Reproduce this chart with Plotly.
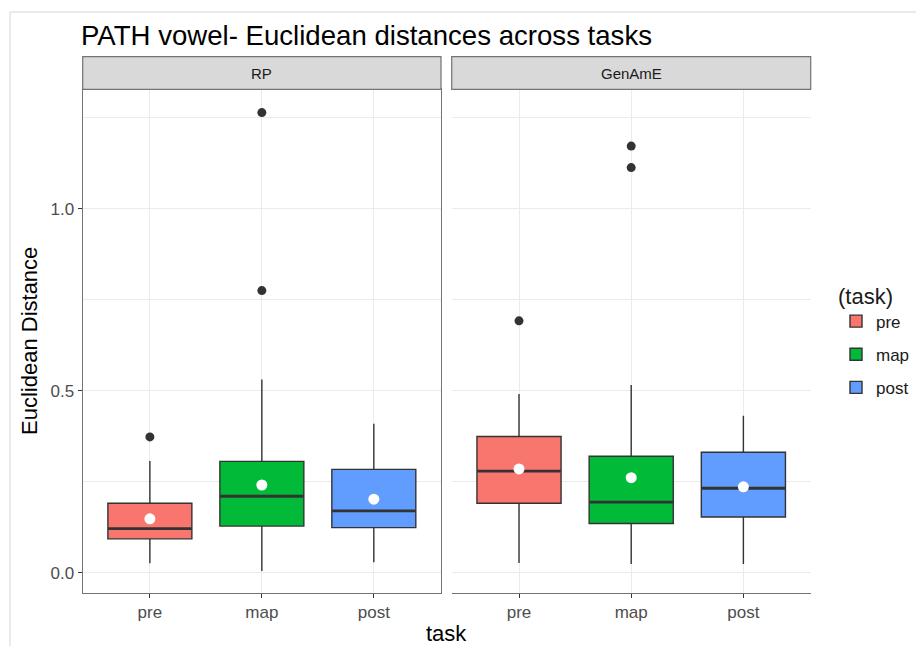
import plotly.graph_objects as go

tasks = ["pre", "map", "post"]
facets = ["RP", "GenAmE"]
colors = ["#F8766D", "#00BA38", "#619CFF"]

# RP panel
rp_lower = [0.026, 0.005, 0.029]
rp_q1 = [0.093, 0.128, 0.124]
rp_median = [0.121, 0.210, 0.170]
rp_q3 = [0.191, 0.306, 0.284]
rp_upper = [0.307, 0.531, 0.409]
rp_mean = [0.148, 0.241, 0.202]
rp_outlier_task = ["pre", "map", "map"]
rp_outlier_value = [0.373, 0.775, 1.264]

# GenAmE panel
ga_lower = [0.027, 0.024, 0.024]
ga_q1 = [0.191, 0.135, 0.153]
ga_median = [0.279, 0.194, 0.232]
ga_q3 = [0.374, 0.320, 0.331]
ga_upper = [0.491, 0.516, 0.431]
ga_mean = [0.285, 0.261, 0.236]
ga_outlier_task = ["pre", "map", "map"]
ga_outlier_value = [0.692, 1.113, 1.172]

panels = [
    ("x", rp_lower, rp_q1, rp_median, rp_q3, rp_upper, rp_mean, rp_outlier_task, rp_outlier_value),
    ("x2", ga_lower, ga_q1, ga_median, ga_q3, ga_upper, ga_mean, ga_outlier_task, ga_outlier_value),
]

# the page has a default 8px body margin, so the figure is drawn inside it
OFF = 8
W, H = 924 - OFF, 646 - OFF


def px(x):
    return (x - OFF) / W


def py(y):
    return (H - (y - OFF)) / H


font = "Liberation Sans, Arial, sans-serif"
dark = "#333333"
grid = "#EBEBEB"
border = "#737373"

fig = go.Figure()

for p, (xa, lo, q1, med, q3, up, mean, ot, ov) in enumerate(panels):
    for i, t in enumerate(tasks):
        fig.add_trace(
            go.Box(
                x=[t],
                lowerfence=[lo[i]],
                q1=[q1[i]],
                median=[med[i]],
                q3=[q3[i]],
                upperfence=[up[i]],
                width=0.75,
                whiskerwidth=0,
                fillcolor=colors[i],
                line={"color": dark, "width": 1.4},
                name=t,
                legendgroup=t,
                showlegend=(p == 0),
                xaxis=xa,
                yaxis="y",
                hoverinfo="skip",
            )
        )
    # thicker median bars (line-ew marker spans 1.4 * size px)
    fig.add_trace(
        go.Scatter(
            x=tasks,
            y=med,
            mode="markers",
            marker={"symbol": "line-ew", "size": 59.5, "line": {"color": dark, "width": 2.8}},
            showlegend=False,
            xaxis=xa,
            yaxis="y",
            hoverinfo="skip",
        )
    )
    fig.add_trace(
        go.Scatter(
            x=ot,
            y=ov,
            mode="markers",
            marker={"color": dark, "size": 9},
            showlegend=False,
            xaxis=xa,
            yaxis="y",
        )
    )
    fig.add_trace(
        go.Scatter(
            x=tasks,
            y=mean,
            mode="markers",
            marker={"color": "white", "size": 11},
            showlegend=False,
            xaxis=xa,
            yaxis="y",
        )
    )

y_bottom, y_top = py(592.7), py(89.3)
strip_top = py(56.7)
dom1 = [px(82.7), px(441)]
dom2 = [px(451.7), px(810.7)]

xaxis_common = dict(
    type="category",
    categoryorder="array",
    categoryarray=tasks,
    range=[-0.6, 2.6],
    showgrid=True,
    gridcolor=grid,
    gridwidth=1.2,
    showline=True,
    mirror=True,
    linecolor=border,
    linewidth=1.2,
    ticks="outside",
    ticklen=4,
    tickcolor=dark,
    tickfont={"family": font, "size": 17, "color": "#4D4D4D"},
    zeroline=False,
    anchor="y",
    fixedrange=True,
)

fig.update_layout(
    width=W,
    height=H,
    margin={"l": 0, "r": 0, "t": 0, "b": 0},
    paper_bgcolor="white",
    plot_bgcolor="white",
    boxmode="overlay",
    font={"family": font, "color": "#1A1A1A"},
    xaxis=dict(xaxis_common, domain=dom1),
    xaxis2=dict(xaxis_common, domain=dom2),
    yaxis=dict(
        domain=[y_bottom, y_top],
        range=[-0.0549, 1.328],
        tick0=0,
        dtick=0.5,
        tickformat=".1f",
        showgrid=True,
        gridcolor=grid,
        gridwidth=1.2,
        minor={"dtick": 0.25, "showgrid": True, "gridcolor": grid, "gridwidth": 0.7},
        zeroline=False,
        showline=True,
        mirror=True,
        linecolor=border,
        linewidth=1.2,
        ticks="outside",
        ticklen=4,
        tickcolor=dark,
        tickfont={"family": font, "size": 17, "color": "#4D4D4D"},
        anchor="x",
        fixedrange=True,
    ),
    legend={
        "title": {"text": "(task)", "font": {"family": font, "size": 22, "color": "#1A1A1A"}},
        "x": px(836),
        "xanchor": "left",
        "y": py(275),
        "yanchor": "top",
        "font": {"family": font, "size": 17, "color": "#1A1A1A"},
        "tracegroupgap": 8,
        "itemwidth": 30,
    },
    title={
        "text": "PATH vowel- Euclidean distances across tasks",
        "x": px(81),
        "xanchor": "left",
        "y": py(35.5),
        "yanchor": "middle",
        "font": {"family": font, "size": 27.6, "color": "#000000"},
    },
)

# facet strips
for xa, name in [("x", facets[0]), ("x2", facets[1])]:
    fig.add_shape(
        type="rect",
        xref=f"{xa} domain",
        yref="paper",
        x0=0,
        x1=1,
        y0=y_top,
        y1=strip_top,
        fillcolor="#D9D9D9",
        line={"color": border, "width": 1.2},
        layer="above",
    )
    fig.add_annotation(
        xref=f"{xa} domain",
        yref="paper",
        x=0.5,
        y=(y_top + strip_top) / 2,
        text=name,
        showarrow=False,
        font={"family": font, "size": 15, "color": "#1A1A1A"},
        xanchor="center",
        yanchor="middle",
    )

# axis titles
fig.add_annotation(
    xref="paper", yref="paper", x=px(446), y=py(633),
    text="task", showarrow=False,
    font={"family": font, "size": 22, "color": "#000000"},
    xanchor="center", yanchor="middle",
)
fig.add_annotation(
    xref="paper", yref="paper", x=px(29), y=py(341),
    text="Euclidean Distance", showarrow=False, textangle=-90,
    font={"family": font, "size": 22, "color": "#000000"},
    xanchor="center", yanchor="middle",
)

# faint outer frame of the original screenshot
fig.add_shape(type="line", xref="paper", yref="paper", x0=px(10), x1=1, y0=py(12), y1=py(12),
              line={"color": "#E3E3E3", "width": 1.5})
fig.add_shape(type="line", xref="paper", yref="paper", x0=px(10), x1=px(10), y0=0, y1=py(12),
              line={"color": "#E3E3E3", "width": 1.5})

fig.write_html("out.html")
